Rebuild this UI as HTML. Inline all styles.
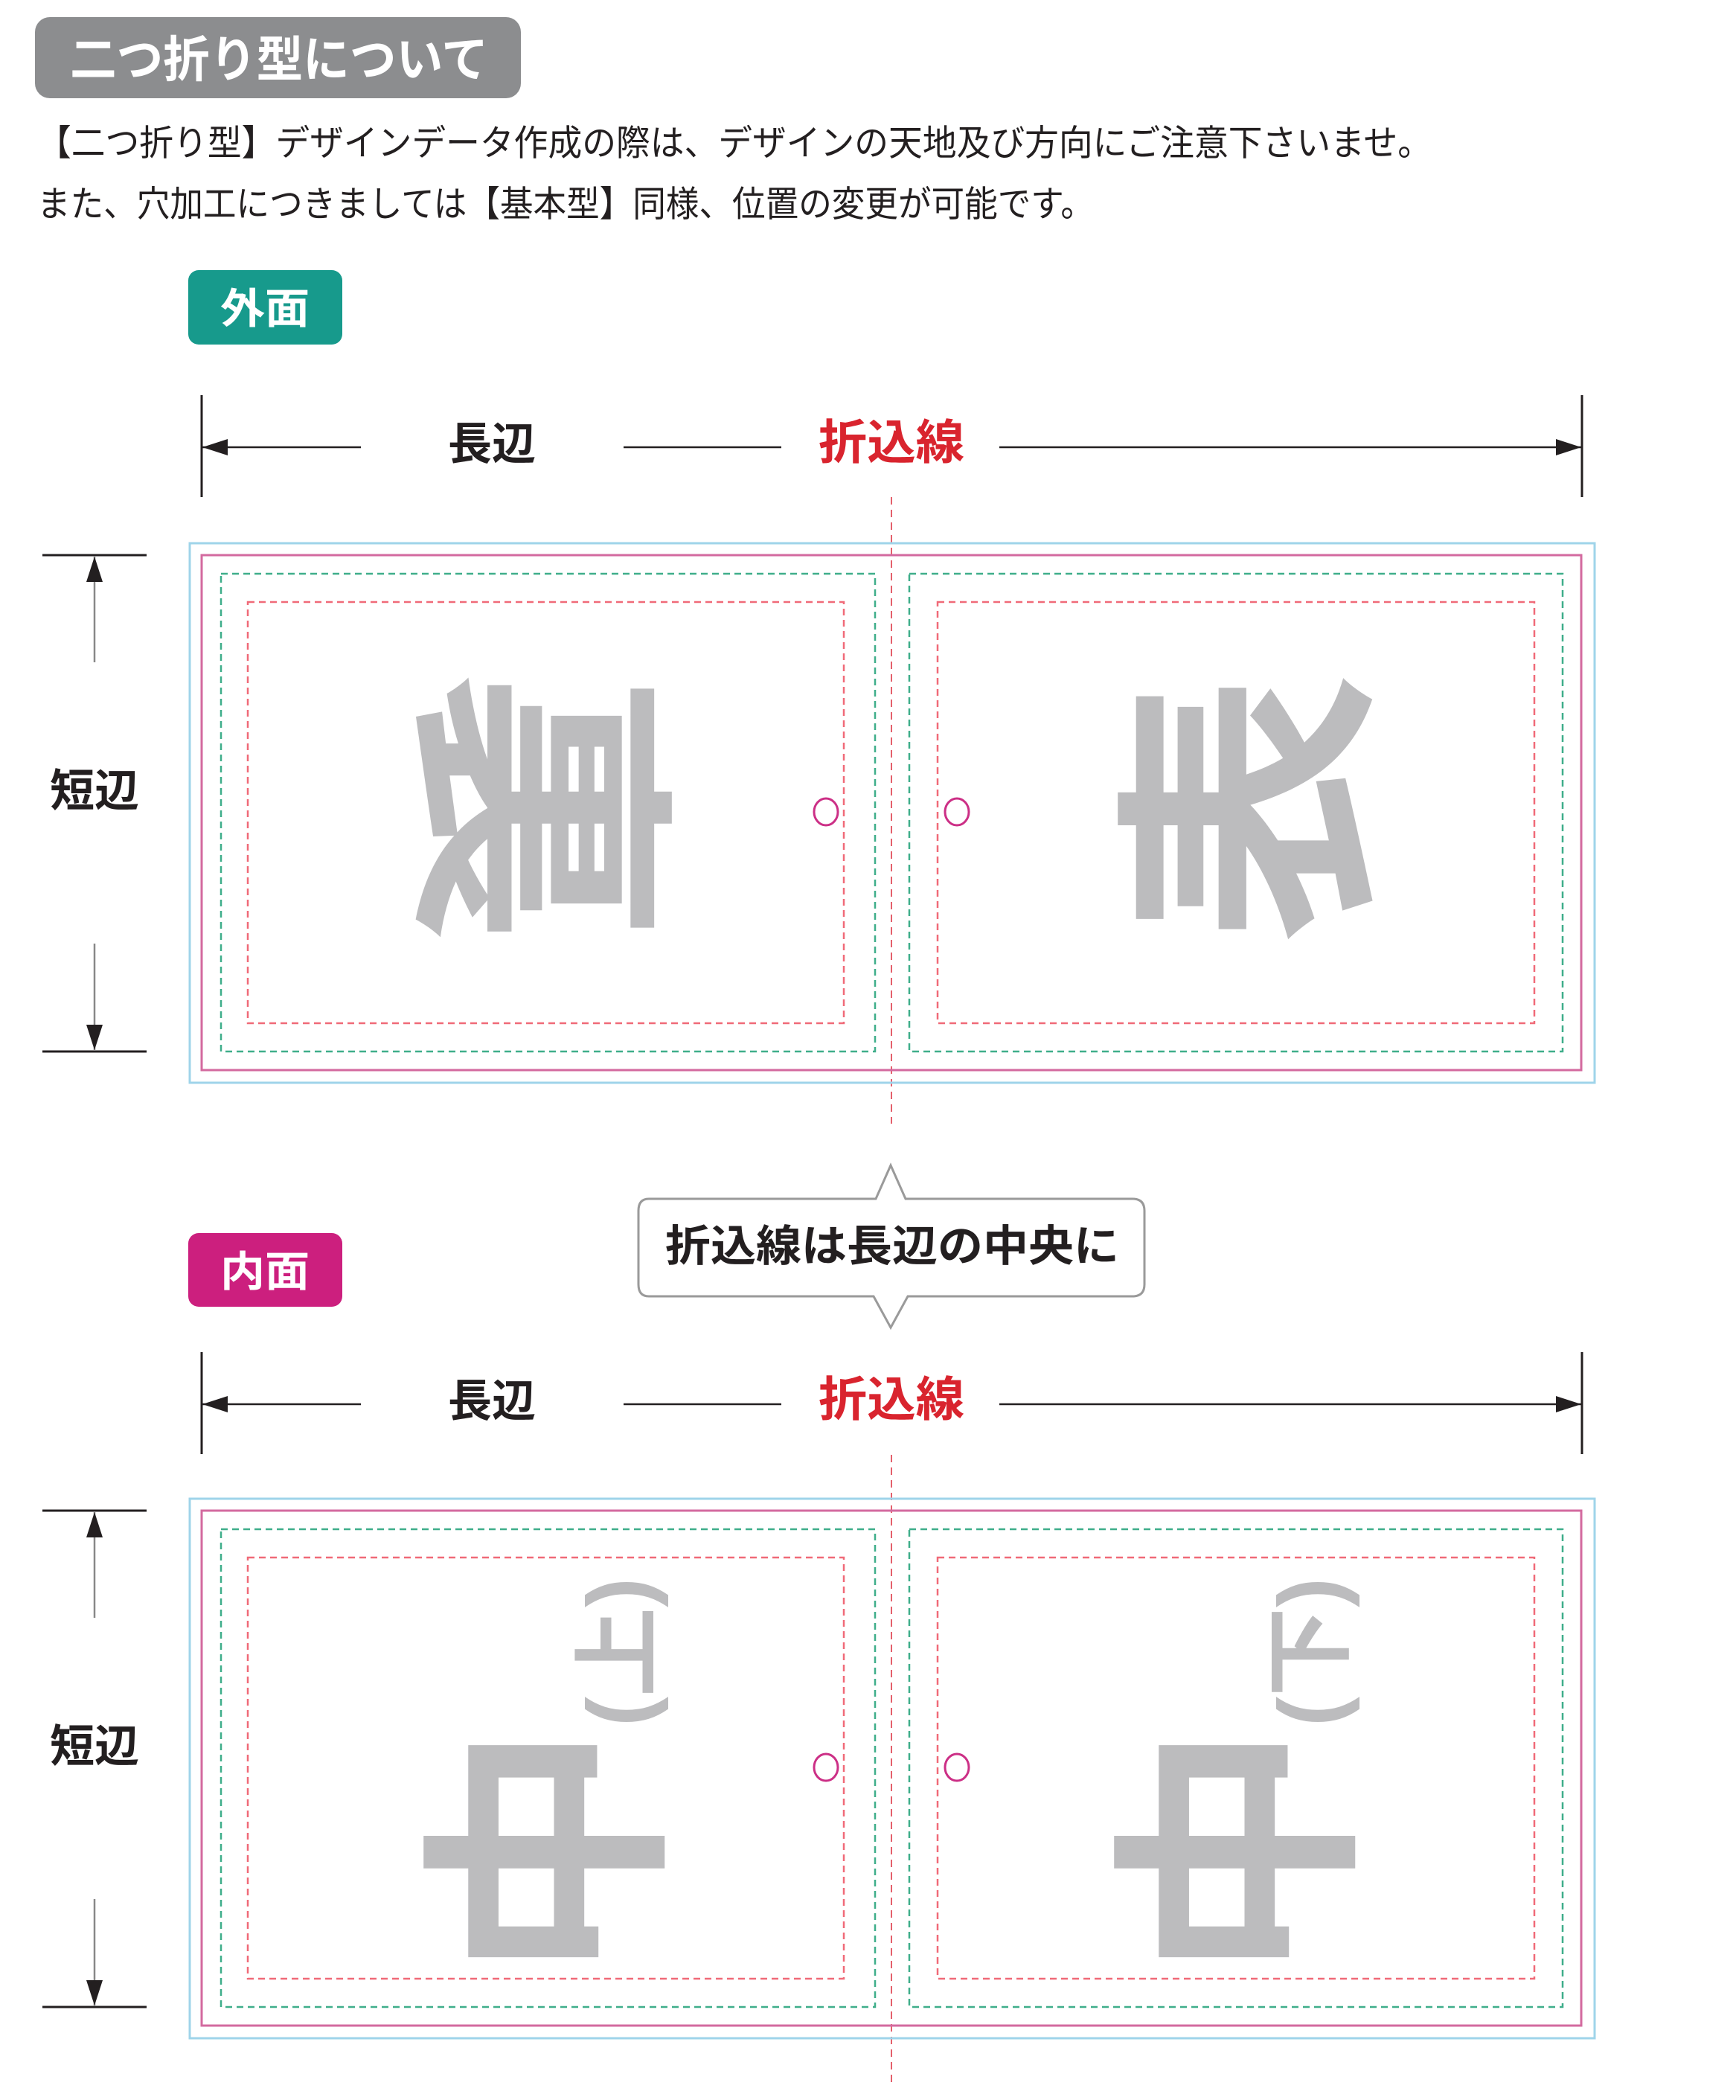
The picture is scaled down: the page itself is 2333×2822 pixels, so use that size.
<!DOCTYPE html>
<html><head><meta charset="utf-8">
<style>
html,body{margin:0;padding:0;background:#fff;}
svg{display:block;}
text{font-family:"Liberation Sans","Noto Sans CJK JP",sans-serif;}
</style></head>
<body>
<svg width="2333" height="2822" viewBox="0 0 2333 2822" xmlns="http://www.w3.org/2000/svg">
<rect x="47" y="23" width="653" height="109" rx="20" fill="#8c8d8f"/>
<text x="94" y="80" font-size="66" font-weight="bold" fill="#fff" dominant-baseline="central" textLength="562" lengthAdjust="spacingAndGlyphs">二つ折り型について</text>
<text x="50" y="193" font-size="48" fill="#231f20" dominant-baseline="central" textLength="1874" lengthAdjust="spacingAndGlyphs">【二つ折り型】デザインデータ作成の際は、デザインの天地及び方向にご注意下さいませ。</text>
<text x="50" y="275" font-size="48" fill="#231f20" dominant-baseline="central" textLength="1420" lengthAdjust="spacingAndGlyphs">また、穴加工につきましては【基本型】同様、位置の変更が可能です。</text>

<rect x="253" y="363" width="207" height="100" rx="14" fill="#179a8c"/>
<text x="356" y="415" font-size="56" font-weight="bold" fill="#fff" text-anchor="middle" dominant-baseline="central" textLength="120" lengthAdjust="spacingAndGlyphs">外面</text>
<rect x="253" y="1657" width="207" height="99" rx="14" fill="#cc1f7e"/>
<text x="356" y="1709" font-size="56" font-weight="bold" fill="#fff" text-anchor="middle" dominant-baseline="central" textLength="120" lengthAdjust="spacingAndGlyphs">内面</text>

<g id="dimTop">
<line x1="271" y1="531" x2="271" y2="668" stroke="#231f20" stroke-width="3"/>
<line x1="2126" y1="531" x2="2126" y2="668" stroke="#231f20" stroke-width="3"/>
<line x1="272" y1="601" x2="485" y2="601" stroke="#231f20" stroke-width="2.5"/>
<line x1="838" y1="601" x2="1050" y2="601" stroke="#231f20" stroke-width="2.5"/>
<line x1="1343" y1="601" x2="2125" y2="601" stroke="#231f20" stroke-width="2.5"/>
<polygon points="272,601 306,590 306,612" fill="#231f20"/>
<polygon points="2125,601 2091,590 2091,612" fill="#231f20"/>
<text x="661" y="597" font-size="60" font-weight="bold" fill="#231f20" text-anchor="middle" dominant-baseline="central" textLength="118" lengthAdjust="spacingAndGlyphs">長辺</text>
<text x="1198" y="595" font-size="64" font-weight="bold" fill="#d9242e" text-anchor="middle" dominant-baseline="central" textLength="196" lengthAdjust="spacingAndGlyphs">折込線</text>
</g>
<use href="#dimTop" transform="translate(0,1286)"/>

<path d="M872,1611 L1177,1611 L1197,1566 L1217,1611 L1522,1611 Q1538,1611 1538,1627 L1538,1726 Q1538,1742 1522,1742 L1220,1742 L1197,1784 L1174,1742 L872,1742 Q858,1742 858,1726 L858,1627 Q858,1611 872,1611 Z" fill="#fff" stroke="#9a9a9a" stroke-width="3"/>
<text x="1199" y="1675" font-size="58" font-weight="bold" fill="#231f20" text-anchor="middle" dominant-baseline="central" textLength="610" lengthAdjust="spacingAndGlyphs">折込線は長辺の中央に</text>

<line x1="1198" y1="668" x2="1198" y2="1510" stroke="#e4606c" stroke-width="2" stroke-dasharray="10,7"/>
<line x1="1198" y1="1955" x2="1198" y2="2800" stroke="#e4606c" stroke-width="2" stroke-dasharray="10,7"/>

<g id="sheet">
<rect x="255" y="730" width="1888" height="725" fill="none" stroke="#9fd4ea" stroke-width="3"/>
<rect x="271" y="746" width="1854" height="692" fill="none" stroke="#d36a9f" stroke-width="3"/>
<rect x="297" y="771" width="879" height="642" fill="none" stroke="#3fae8a" stroke-width="2.5" stroke-dasharray="9,6"/>
<rect x="1222" y="771" width="878" height="642" fill="none" stroke="#3fae8a" stroke-width="2.5" stroke-dasharray="9,6"/>
<rect x="333" y="809" width="801" height="566" fill="none" stroke="#f06a78" stroke-width="2.5" stroke-dasharray="9,6"/>
<rect x="1260" y="809" width="802" height="566" fill="none" stroke="#f06a78" stroke-width="2.5" stroke-dasharray="9,6"/>
<ellipse cx="1110" cy="1091" rx="16" ry="18" fill="none" stroke="#cc2f86" stroke-width="3"/>
<ellipse cx="1286" cy="1091" rx="16" ry="18" fill="none" stroke="#cc2f86" stroke-width="3"/>
</g>
<use href="#sheet" transform="translate(0,1284)"/>

<g id="shortDim">
<line x1="57" y1="746" x2="197" y2="746" stroke="#231f20" stroke-width="3"/>
<line x1="57" y1="1413" x2="197" y2="1413" stroke="#231f20" stroke-width="3"/>
<line x1="127" y1="748" x2="127" y2="890" stroke="#888" stroke-width="2.5"/>
<line x1="127" y1="1268" x2="127" y2="1411" stroke="#888" stroke-width="2.5"/>
<polygon points="127,748 116,782 138,782" fill="#231f20"/>
<polygon points="127,1411 116,1377 138,1377" fill="#231f20"/>
<text x="127" y="1063" font-size="60" font-weight="bold" fill="#231f20" text-anchor="middle" dominant-baseline="central" textLength="120" lengthAdjust="spacingAndGlyphs">短辺</text>
</g>
<use href="#shortDim" transform="translate(0,1284)"/>

<text transform="translate(717,1086) rotate(90)" font-size="365" font-weight="bold" fill="#bcbcbe" text-anchor="middle" dominant-baseline="central">裏</text>
<text transform="translate(1687,1086) rotate(-90)" font-size="365" font-weight="bold" fill="#bcbcbe" text-anchor="middle" dominant-baseline="central">表</text>

<text transform="translate(744,2488) rotate(-90)" font-size="345" font-weight="bold" fill="#bcbcbe" text-anchor="middle" dominant-baseline="central">中</text>
<text transform="translate(1672,2488) rotate(-90)" font-size="345" font-weight="bold" fill="#bcbcbe" text-anchor="middle" dominant-baseline="central">中</text>
<text transform="translate(832,2220) rotate(-90)" font-size="120" font-weight="bold" fill="#bcbcbe" text-anchor="middle" dominant-baseline="central">(上)</text>
<text transform="translate(1761,2220) rotate(-90)" font-size="120" font-weight="bold" fill="#bcbcbe" text-anchor="middle" dominant-baseline="central">(下)</text>
</svg>
</body></html>
